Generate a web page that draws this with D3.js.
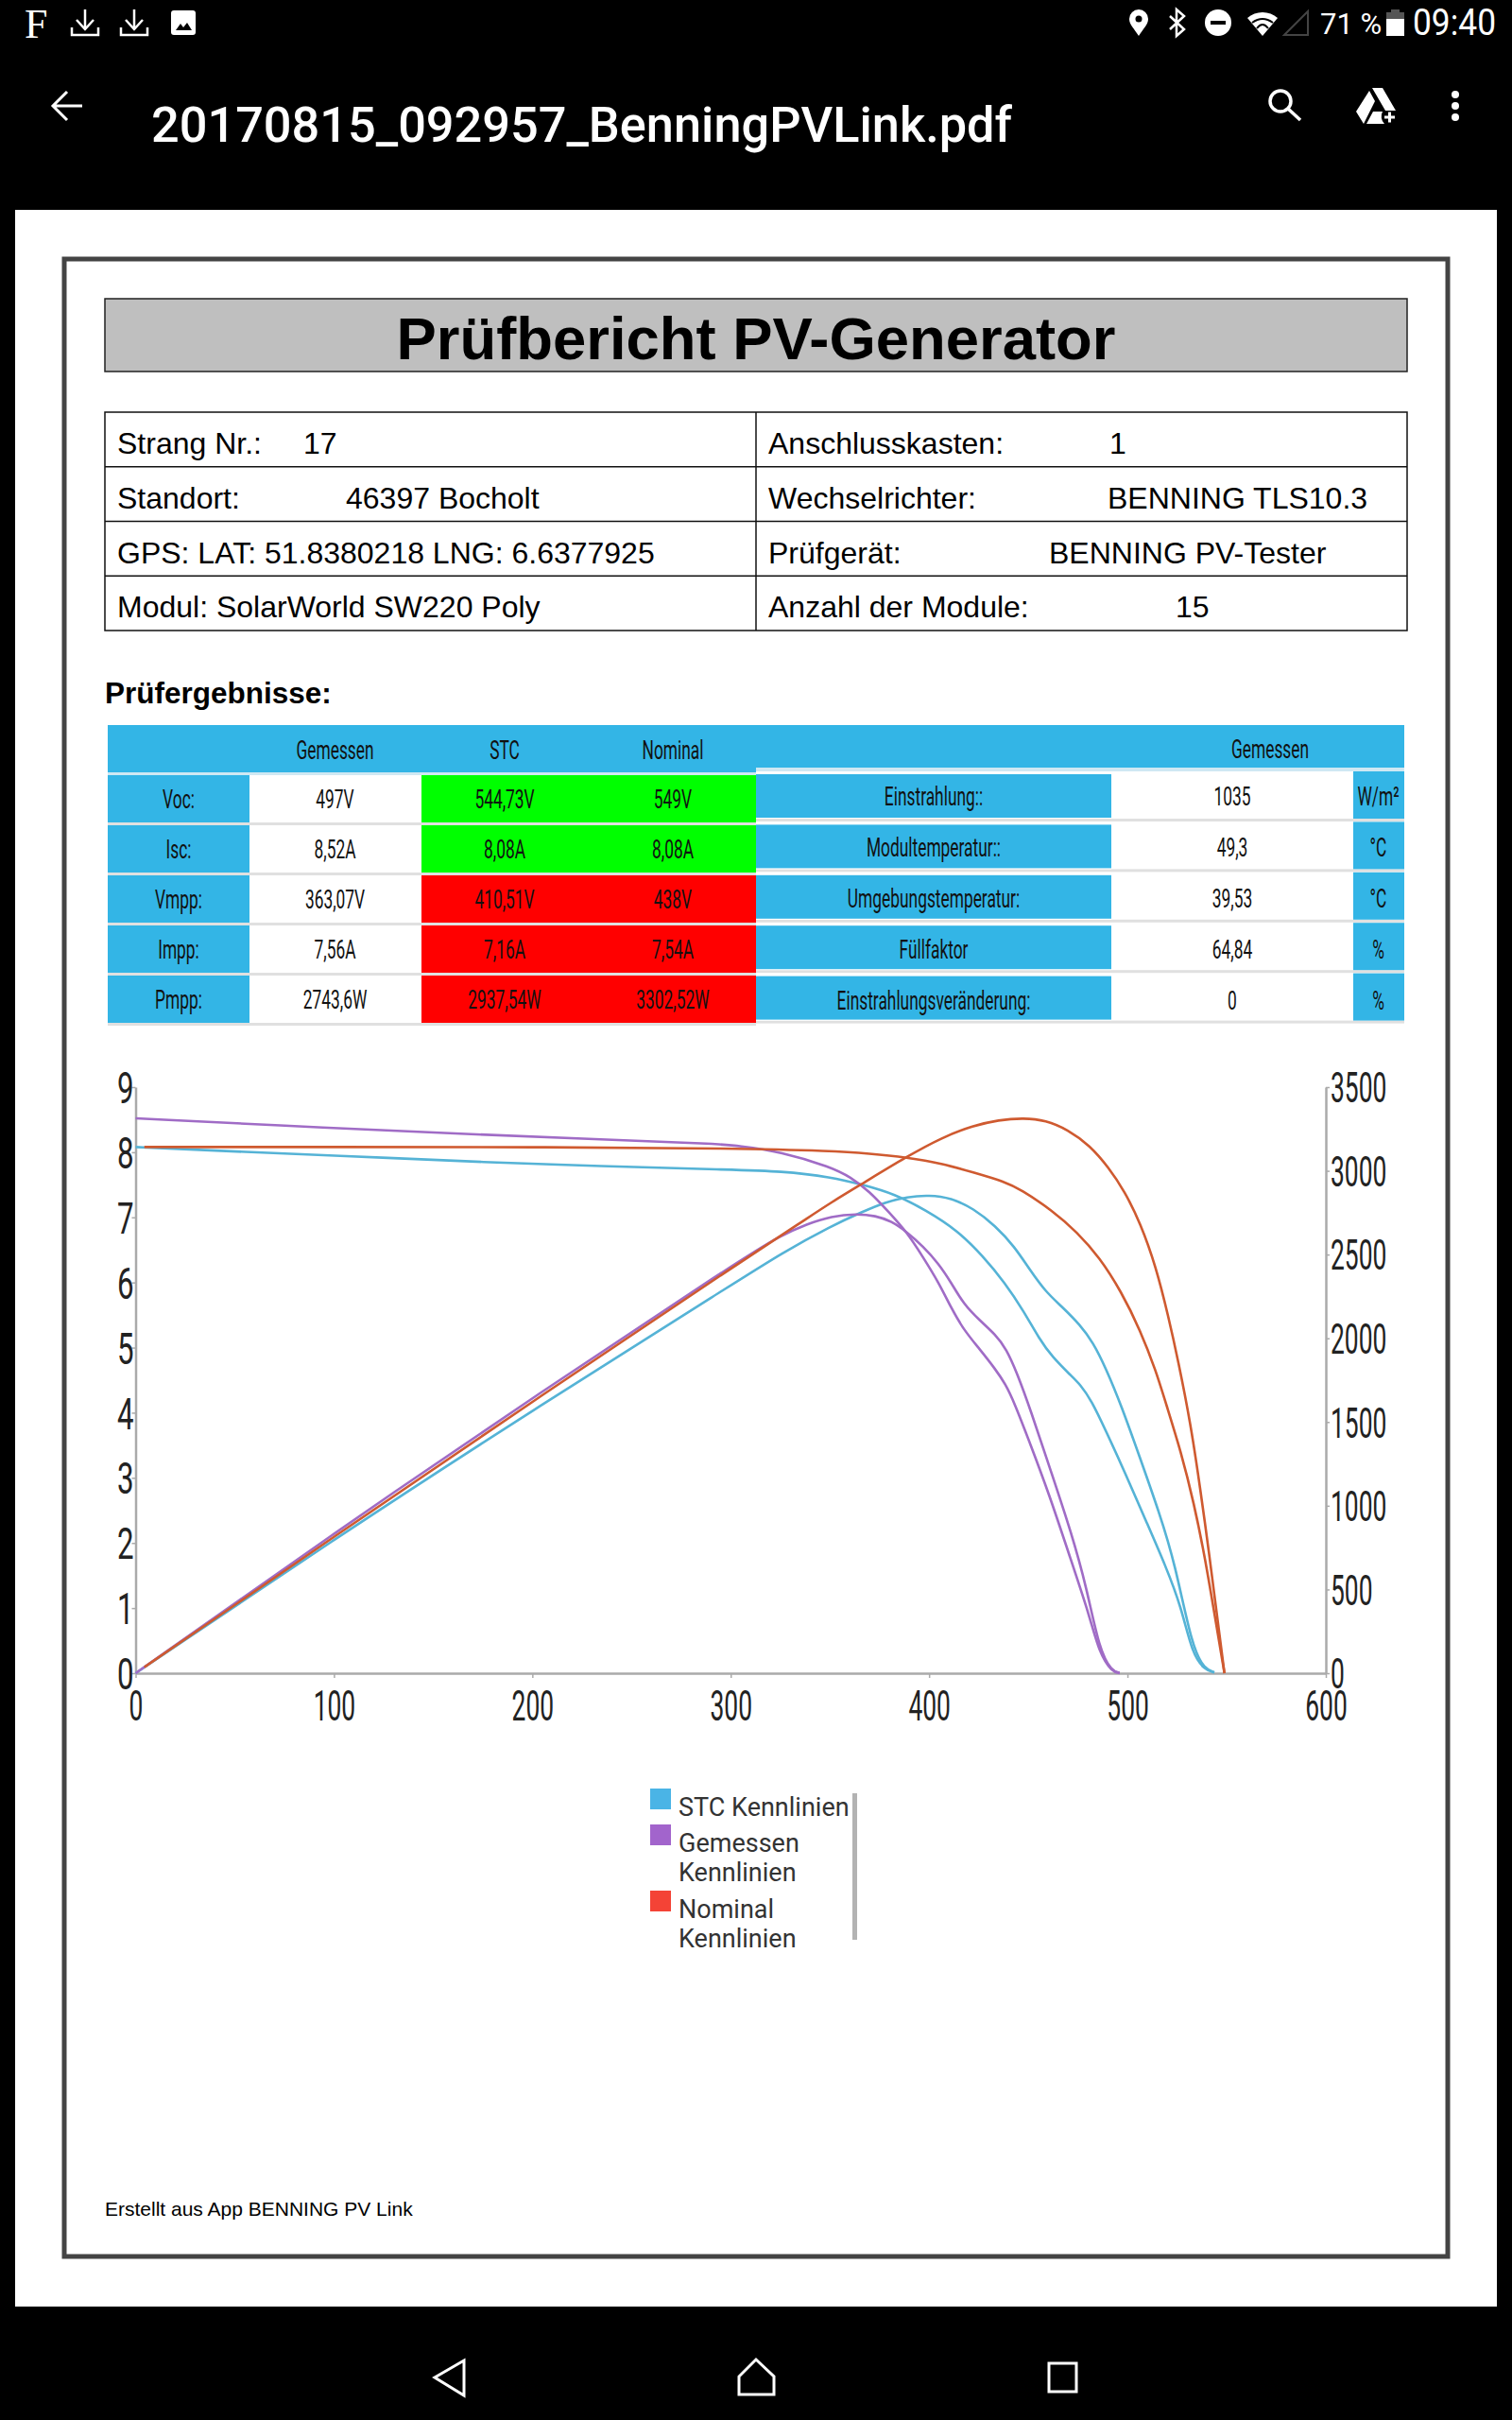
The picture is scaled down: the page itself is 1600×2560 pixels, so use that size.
<!DOCTYPE html>
<html>
<head>
<meta charset="utf-8">
<script src="https://d3js.org/d3.v7.min.js"></script>
<style>
html, body { margin: 0; padding: 0; background: #000; }
svg { display: block; }
</style>
</head>
<body>
<svg id="page" width="1600" height="2560"></svg>
<script>
// curve readings: voltage / current and voltage / power for each set
var stcCurrentU = [0, 35, 101, 180, 232, 300, 325.3, 350.8, 366.7, 382.6, 398.4, 414.3, 427, 438.1, 447.7, 455.6, 462, 471.5, 476.3, 481.8, 489, 498.5, 509.6, 519.2, 527.1, 532.7, 539, 543.8];
var stcCurrentI = [8.08, 8.03, 7.95, 7.84, 7.79, 7.73, 7.71, 7.62, 7.5, 7.36, 7.11, 6.8, 6.41, 6, 5.56, 5.13, 4.86, 4.57, 4.43, 4.19, 3.73, 3.1, 2.32, 1.65, 1.02, 0.29, 0.05, 0.01];
var stcPowerU = [0, 100, 200, 303.5, 325.3, 350.8, 366.7, 377.8, 388.9, 400, 411.1, 422.3, 433.4, 442.9, 450.8, 458.8, 466.7, 476.2, 482.6, 489, 496.9, 506.5, 516, 523.9, 532.7, 539, 543.8];
var stcPowerP = [0, 800, 1570, 2342, 2506, 2672, 2757, 2813, 2845, 2855, 2838, 2776, 2672, 2550, 2409, 2277, 2192, 2079, 1976, 1825, 1599, 1280, 960, 659, 150, 23, 6];

var gemCurrentU = [0, 100, 166.6, 232, 293.5, 303.5, 325.3, 350.8, 360.3, 369.9, 379.4, 388.9, 396.9, 404.8, 411.1, 417.5, 425.4, 433.4, 438.5, 442.9, 450.9, 460.4, 471.5, 481, 485.8, 492.2, 496.1];
var gemCurrentI = [8.52, 8.37, 8.28, 8.2, 8.13, 8.1, 8.01, 7.77, 7.62, 7.4, 7.09, 6.77, 6.39, 6, 5.61, 5.27, 4.98, 4.67, 4.44, 4.16, 3.53, 2.76, 1.74, 0.87, 0.31, 0.02, 0];
var gemPowerU = [0, 100, 200, 303.5, 325.3, 338.4, 350.8, 363.5, 373, 381, 388.9, 396.9, 404.8, 411.1, 417.5, 425.4, 433.4, 438.9, 444.5, 450.9, 462, 471.5, 479.5, 485.8, 492.2, 496.1];
var gemPowerP = [0, 837, 1645, 2458, 2615, 2682, 2729, 2744, 2732, 2700, 2634, 2550, 2446, 2333, 2202, 2108, 2023, 1938, 1788, 1581, 1185, 847, 508, 141, 9, 3];

var nomCurrentU = [4.4, 100, 200, 303.5, 350.8, 369.9, 388.9, 406.4, 422.3, 438.1, 446, 462, 474.7, 485.8, 496.9, 506.4, 514.4, 519.2, 527.1, 533.5, 539, 543.8, 548.9];
var nomCurrentI = [8.08, 8.08, 8.08, 8.06, 8.02, 7.98, 7.92, 7.83, 7.69, 7.55, 7.43, 7.11, 6.77, 6.39, 5.86, 5.27, 4.64, 4.16, 3.39, 2.61, 1.79, 0.92, 0];
var nomPowerU = [4.4, 100, 200, 303.5, 336.2, 350.8, 366.7, 388.9, 406.4, 422.3, 435, 447.7, 458.8, 469.9, 481, 490.5, 498.5, 506.4, 514.4, 520.7, 525.5, 531.9, 536.6, 541.4, 545.4, 548.9];
var nomPowerP = [36, 815, 1622, 2445, 2698, 2813, 2926, 3086, 3199, 3270, 3304, 3316, 3302, 3246, 3152, 3020, 2879, 2691, 2427, 2126, 1870, 1487, 1110, 696, 320, 0];

var xTicks = [0, 100, 200, 300, 400, 500, 600];
var currentTicks = [0, 1, 2, 3, 4, 5, 6, 7, 8, 9];
var powerTicks = [0, 500, 1000, 1500, 2000, 2500, 3000, 3500];

// result tables
var rowNames = ["Voc:", "Isc:", "Vmpp:", "Impp:", "Pmpp:"];
var gemessenVals = ["497V", "8,52A", "363,07V", "7,56A", "2743,6W"];
var stcVals = ["544,73V", "8,08A", "410,51V", "7,16A", "2937,54W"];
var nominalVals = ["549V", "8,08A", "438V", "7,54A", "3302,52W"];
var rowOk = [true, true, false, false, false];
var envNames = ["Einstrahlung::", "Modultemperatur::", "Umgebungstemperatur:", "Füllfaktor", "Einstrahlungsveränderung:"];
var envVals = ["1035", "49,3", "39,53", "64,84", "0"];
var envUnits = ["W/m²", "°C", "°C", "%", "%"];

var infoLeft = [["Strang Nr.:", "17"], ["Standort:", "46397 Bocholt"], ["GPS: LAT: 51.8380218 LNG: 6.6377925", ""], ["Modul: SolarWorld SW220 Poly", ""]];
var infoRight = [["Anschlusskasten:", "1"], ["Wechselrichter:", "BENNING TLS10.3"], ["Prüfgerät:", "BENNING PV-Tester"], ["Anzahl der Module:", "15"]];
var infoLeftX = [321, 366, 0, 0];
var infoRightX = [1174, 1172, 1110, 1244];
var legendNames = [["STC Kennlinien"], ["Gemessen", "Kennlinien"], ["Nominal", "Kennlinien"]];

var BLUE = "#33b5e6";
var SANS = "'Liberation Sans', Arial, sans-serif";
var ROBOTO = "Roboto, sans-serif";

var svg = d3.select("#page");

function rect(g, x, y, w, h, fill) {
    return g.append("rect").attr("x", x).attr("y", y).attr("width", w).attr("height", h).attr("fill", fill);
}

// text squeezed horizontally, the pdf was stretched by the viewer
function narrow(g, x, y, str, size, sx, anchor) {
    return g.append("text")
        .attr("transform", "translate(" + x + "," + y + ") scale(" + sx + ",1)")
        .attr("text-anchor", anchor || "middle")
        .attr("dy", "0.36em")
        .style("font", size + "px " + ROBOTO)
        .attr("fill", "#111")
        .text(str);
}

function drawChrome() {
    var g = svg.append("g").attr("class", "chrome");
    rect(g, 0, 0, 1600, 2560, "#000");
    rect(g, 16, 222, 1568, 2218, "#fff");

    g.append("text").attr("x", 26).attr("y", 40).style("font", "44px 'Liberation Serif', serif").attr("fill", "#fff").text("F");
    [76, 128].forEach(function(x) {
        g.append("path")
            .attr("d", "M" + (x + 14) + " 10V30M" + (x + 5) + " 21L" + (x + 14) + " 31L" + (x + 23) + " 21M" + x + " 29V37H" + (x + 28) + "V29")
            .attr("fill", "none").attr("stroke", "#fff").attr("stroke-width", 2.5);
    });
    rect(g, 181, 11, 26, 26, "#fff").attr("rx", 3);
    g.append("path").attr("d", "M186 32L191 25L194 29L198 24L203 32Z").attr("fill", "#000");

    g.append("path").attr("d", "M1205 38C1200 30 1195 26 1195 20A10 10 0 0 1 1215 20C1215 26 1210 30 1205 38Z").attr("fill", "#fff");
    g.append("circle").attr("cx", 1205).attr("cy", 20).attr("r", 3.5).attr("fill", "#000");
    g.append("path").attr("d", "M1238 17L1253 31L1245 38V10L1253 17L1238 31").attr("fill", "none").attr("stroke", "#fff").attr("stroke-width", 2.5);
    g.append("circle").attr("cx", 1289).attr("cy", 24).attr("r", 14).attr("fill", "#fff");
    rect(g, 1281, 22, 16, 4, "#000");
    g.append("path").attr("d", "M1320 19A24 24 0 0 1 1352 19L1336 38Z").attr("fill", "#fff");
    [[1325, 24, 1347], [1330, 30, 1342]].forEach(function(a) {
        g.append("path").attr("d", "M" + a[0] + " " + a[1] + "Q1336 " + (a[1] - 8) + " " + a[2] + " " + a[1]).attr("fill", "none").attr("stroke", "#000").attr("stroke-width", 2);
    });
    g.append("path").attr("d", "M1359 37L1384 12V37Z").attr("fill", "none").attr("stroke", "#444").attr("stroke-width", 2);
    g.append("text").attr("x", 1397).attr("y", 36).style("font", "31px " + ROBOTO).attr("fill", "#fff").text("71 %");
    rect(g, 1467, 13, 19, 25, "#555");
    rect(g, 1472, 10, 9, 4, "#555");
    rect(g, 1467, 20, 19, 18, "#fff");
    g.append("text").attr("x", 1495).attr("y", 37).attr("textLength", 88).attr("lengthAdjust", "spacingAndGlyphs")
        .style("font", "38px " + ROBOTO).attr("fill", "#fff").text("09:40");

    g.append("path").attr("d", "M87 112H57M71 97L56 112L71 127").attr("fill", "none").attr("stroke", "#fff").attr("stroke-width", 3);
    g.append("text").attr("x", 160).attr("y", 150).attr("textLength", 911).attr("lengthAdjust", "spacingAndGlyphs")
        .style("font", "500 51px " + ROBOTO).attr("fill", "#fff").text("20170815_092957_BenningPVLink.pdf");
    g.append("circle").attr("cx", 1355).attr("cy", 107).attr("r", 11).attr("fill", "none").attr("stroke", "#fff").attr("stroke-width", 3.5);
    g.append("line").attr("x1", 1363).attr("y1", 115).attr("x2", 1376).attr("y2", 127).attr("stroke", "#fff").attr("stroke-width", 3.5);
    g.append("path").attr("d", "M1452 93H1463L1477 117H1466ZM1449 96L1455 107L1443 131L1435 118ZM1446 131L1453 118H1463A11 11 0 0 0 1465 131Z").attr("fill", "#fff");
    g.append("path").attr("d", "M1465 124H1476M1470.500 118.500V129.500").attr("stroke", "#fff").attr("stroke-width", 3);
    [100, 112, 124].forEach(function(y) {
        g.append("circle").attr("cx", 1540).attr("cy", y).attr("r", 4).attr("fill", "#fff");
    });

    g.append("path").attr("d", "M491 2497V2534L460 2515Z").attr("fill", "none").attr("stroke", "#fff").attr("stroke-width", 3);
    g.append("path").attr("d", "M782 2533V2514L800 2496L819 2514V2533Z").attr("fill", "none").attr("stroke", "#fff").attr("stroke-width", 3);
    rect(g, 1110, 2500, 29, 30, "none").attr("stroke", "#fff").attr("stroke-width", 3);
}

function drawHeader() {
    var g = svg.append("g").attr("class", "report");
    rect(g, 68, 274, 1464, 2113, "none").attr("stroke", "#444").attr("stroke-width", 5);
    rect(g, 111, 316, 1378, 77, "#bfbfbf").attr("stroke", "#222").attr("stroke-width", 1.5);
    g.append("text").attr("x", 800).attr("y", 380).attr("text-anchor", "middle")
        .style("font", "bold 63.400px " + SANS).attr("fill", "#000").text("Prüfbericht PV-Generator");

    var ys = d3.scaleBand().domain(d3.range(4)).range([436, 667]);
    rect(g, 111, 436, 1378, 231, "none").attr("stroke", "#111").attr("stroke-width", 1.5);
    g.append("line").attr("x1", 800).attr("x2", 800).attr("y1", 436).attr("y2", 667).attr("stroke", "#111").attr("stroke-width", 1.5);
    d3.range(1, 4).forEach(function(i) {
        g.append("line").attr("x1", 111).attr("x2", 1489).attr("y1", ys(i)).attr("y2", ys(i)).attr("stroke", "#111").attr("stroke-width", 1.5);
    });

    function infoCol(rows, labelX, valueX) {
        rows.forEach(function(r, i) {
            var y = ys(i) + 44;
            g.append("text").attr("x", labelX).attr("y", y).style("font", "32px " + SANS).attr("fill", "#000").text(r[0]);
            if (r[1]) g.append("text").attr("x", valueX[i]).attr("y", y).style("font", "32px " + SANS).attr("fill", "#000").text(r[1]);
        });
    }
    infoCol(infoLeft, 124, infoLeftX);
    infoCol(infoRight, 813, infoRightX);

    g.append("text").attr("x", 111).attr("y", 744).style("font", "bold 31.500px " + SANS).attr("fill", "#000").text("Prüfergebnisse:");
    g.append("text").attr("x", 111).attr("y", 2344).style("font", "21px " + SANS).attr("fill", "#000").text("Erstellt aus App BENNING PV Link");
}

function drawTables() {
    var g = svg.append("g").attr("class", "tables");
    var TXT = 28, SX = 0.62;
    var rowY = d3.scaleBand().domain(rowNames).range([820, 1085]);
    var envY = d3.scaleBand().domain(envNames).range([816, 1083]);
    var envText = d3.scalePoint().domain(envNames).range([842, 1058]);

    rect(g, 114, 767, 686, 50, BLUE);
    rect(g, 800, 767, 686, 45, BLUE);
    rect(g, 114, 817, 686, 3, "#cfe8f3");
    rect(g, 800, 812, 686, 4, "#cfe8f3");
    narrow(g, 354.5, 793, "Gemessen", TXT, SX);
    narrow(g, 534, 793, "STC", TXT, SX);
    narrow(g, 712, 793, "Nominal", TXT, SX);
    narrow(g, 1344, 792, "Gemessen", TXT, SX);

    rowNames.forEach(function(name, i) {
        var y = rowY(name), c = y + 25;
        rect(g, 114, y + 50, 686, 3, "#e0e0e0");
        rect(g, 114, y, 150, 50, BLUE);
        rect(g, 446, y, 354, 50, rowOk[i] ? "#00ff00" : "#ff0000");
        narrow(g, 189, c, name, TXT, SX);
        narrow(g, 354.5, c, gemessenVals[i], TXT, SX);
        narrow(g, 534, c, stcVals[i], TXT, SX);
        narrow(g, 712, c, nominalVals[i], TXT, SX);
    });

    envNames.forEach(function(name, i) {
        var y = envY(name), c = envText(name);
        rect(g, 800, y + 50, 686, 3, "#e0e0e0");
        rect(g, 800, y, 376, 50, "#fff");
        rect(g, 800, y + 3, 376, 46, BLUE);
        rect(g, 1432, y, 54, 50, BLUE);
        narrow(g, 988, c, name, TXT, SX);
        narrow(g, 1304, c, envVals[i], TXT, SX);
        narrow(g, 1458.5, c, envUnits[i], TXT, SX);
    });
}

function styleAxis(sel) {
    sel.selectAll(".domain").attr("stroke", "#aaa").attr("stroke-width", 2.5);
    sel.selectAll(".tick line").attr("stroke", "#aaa").attr("stroke-width", 1.5);
}

function drawChart() {
    var g = svg.append("g").attr("class", "chart");
    var xAxis = d3.scaleLinear().domain([0, 600]).range([143.5, 1403]);
    var currentAxis = d3.scaleLinear().domain([0, 9]).range([1770, 1150]);
    var powerAxis = d3.scaleLinear().domain([0, 3500]).range([1770, 1150]);

    var bottom = g.append("g").attr("transform", "translate(0,1770)")
        .call(d3.axisBottom(xAxis).tickValues(xTicks).tickSize(5).tickSizeOuter(0));
    bottom.call(styleAxis);
    bottom.selectAll(".tick text")
        .attr("y", 0).attr("dy", 0)
        .attr("transform", "translate(0,50) scale(0.6,1)")
        .style("font", "44px " + ROBOTO).attr("fill", "#222");

    var left = g.append("g").attr("transform", "translate(143.5,0)")
        .call(d3.axisLeft(currentAxis).tickValues(currentTicks).tickSize(4).tickSizeOuter(0));
    left.call(styleAxis);
    left.selectAll(".tick text")
        .attr("x", 0).attr("dy", "0.36em")
        .attr("transform", "translate(-2,0) scale(0.68,1)")
        .style("font", "46px " + ROBOTO).attr("fill", "#222");

    var right = g.append("g").attr("transform", "translate(1403,0)")
        .call(d3.axisRight(powerAxis).tickValues(powerTicks).tickFormat(d3.format("d")).tickSize(4).tickSizeOuter(0));
    right.call(styleAxis);
    right.selectAll(".tick text")
        .attr("x", 0).attr("dy", "0.36em")
        .attr("transform", "translate(5,0) scale(0.6,1)")
        .style("font", "44px " + ROBOTO).attr("fill", "#222");

    // basis spline, the hand readings are a little jittery
    var curve = d3.line().curve(d3.curveBasis)
        .x(function(d) { return xAxis(d[0]); })
        .y(function(d) { return d[1]; });

    function plot(us, vals, scale, colour) {
        g.append("path")
            .attr("d", curve(us.map(function(u, i) { return [u, scale(vals[i])]; })))
            .attr("fill", "none")
            .attr("stroke", colour)
            .attr("stroke-width", 2.6);
    }
    plot(stcCurrentU, stcCurrentI, currentAxis, "#55b3d6");
    plot(stcPowerU, stcPowerP, powerAxis, "#55b3d6");
    plot(gemCurrentU, gemCurrentI, currentAxis, "#a06cc6");
    plot(gemPowerU, gemPowerP, powerAxis, "#a06cc6");
    plot(nomCurrentU, nomCurrentI, currentAxis, "#cf5a30");
    plot(nomPowerU, nomPowerP, powerAxis, "#cf5a30");
}

function drawLegend() {
    var g = svg.append("g").attr("class", "legend");
    var colours = ["#4ab4e6", "#a264cc", "#f44336"];
    var swatchY = [1892, 1930, 2000];
    legendNames.forEach(function(lines, i) {
        rect(g, 688, swatchY[i], 22, 22, colours[i]);
        lines.forEach(function(line, j) {
            g.append("text").attr("x", 718).attr("y", swatchY[i] + 29 + j * 31)
                .style("font", "27px " + ROBOTO).attr("fill", "#333").text(line);
        });
    });
    rect(g, 902, 1897, 5, 155, "#b3b3b3");
}

drawChrome();
drawHeader();
drawTables();
drawChart();
drawLegend();
</script>
</body>
</html>
